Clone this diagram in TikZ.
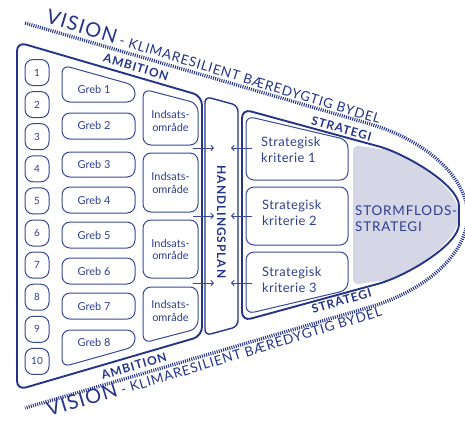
\documentclass[tikz,border=0pt]{standalone}
\usepackage{fontspec}
\setmainfont{Lato}
\newfontfamily\visfont[LetterSpace=6]{Lato}
\newfontfamily\lblfont[LetterSpace=8]{Lato}
\newfontfamily\kritfont[LetterSpace=3]{Lato}
\usetikzlibrary{arrows.meta}
\definecolor{navy}{RGB}{36,52,136}
\definecolor{boxline}{RGB}{56,72,150}
\definecolor{txt}{RGB}{48,62,142}
\definecolor{stormgray}{RGB}{213,215,231}
\begin{document}
\begin{tikzpicture}[x=1bp,y=-1bp,
  thickline/.style={draw=navy,line width=1.9bp,rounded corners=9bp},
  midline/.style={draw=navy,line width=1.4bp,rounded corners=6bp},
  thinbox/.style={draw=boxline,line width=1bp,rounded corners=8bp},
  numbox/.style={draw=boxline,line width=1bp,rounded corners=8bp,minimum width=24bp,minimum height=26bp,inner sep=0pt,text=txt,font=\fontsize{10}{12}\selectfont},
  dotline/.style={draw=navy,line width=3.4bp,dash pattern=on 1bp off 1.2bp},
  grebtxt/.style={inner sep=0pt,text=txt,font=\fontsize{11}{13}\selectfont},
  indtxt/.style={inner sep=0pt,text=txt,align=center,font=\fontsize{11}{13}\selectfont},
  krittxt/.style={inner sep=0pt,text=txt,align=left,anchor=west,font=\kritfont\fontsize{13}{16}\selectfont},
  stormtxt/.style={inner sep=0pt,text=txt,align=left,anchor=west,font=\visfont\fontsize{13.5}{16}\selectfont},
  lbl/.style={inner sep=0pt,text=navy,font=\lblfont\bfseries\fontsize{12}{14}\selectfont},
  vis/.style={inner sep=0pt,text=navy,anchor=base west,font=\visfont\fontsize{13.5}{16}\selectfont},
  arr/.style={draw=boxline,line width=1bp,-{Straight Barb[length=2.5bp,width=5.5bp]}}]
\useasboundingbox (0,0) rectangle (465,420);
\clip (0,0) rectangle (465,420);

% VISION dotted outline
\draw[dotline] (25,23) -- (370,124) .. controls (415,137) and (466,170) .. (468,215.5)
   .. controls (466,261) and (415,294) .. (370,307) -- (25,408);

% storm flood gray region
\begin{scope}
\clip[rounded corners=6bp] (353,145) -- (385,150) -- (470,100) -- (470,330) -- (385,280) -- (353,285) -- cycle;
\fill[stormgray] (242,215) -- (242,109) -- (370,144) .. controls (405,153.5) and (459,185) .. (459,215)
   .. controls (459,245) and (405,276.5) .. (370,286) -- (242,321) -- cycle;
\end{scope}

% ambition box
\draw[thickline] (17,60) -- (17,42) -- (202,96) -- (202,336) -- (17,390) -- cycle;
% handlingsplan box
\draw[midline] (205,200) -- (205,96.5) -- (238,105.5) -- (238,326.5) -- (205,335.5) -- cycle;
% strategi box
\draw[thickline] (242,215) -- (242,109) -- (370,144) .. controls (405,153.5) and (459,185) .. (459,215)
   .. controls (459,245) and (405,276.5) .. (370,286) -- (242,321) -- cycle;

% number boxes
\foreach \i [count=\k from 0] in {1,...,10}{
  \node[numbox] (n\i) at (37,{72.5+32.1*\k}) {\i};
}

% greb boxes
\draw[thinbox] (62,80) -- (62,65) -- (135,85.5) -- (135,102) -- (62,102) -- cycle;
\draw[thinbox] (62,113) rectangle (135,139);
\draw[thinbox] (62,152) rectangle (135,177);
\draw[thinbox] (62,187) rectangle (135,213);
\draw[thinbox] (62,222) rectangle (135,248);
\draw[thinbox] (62,258) rectangle (135,284);
\draw[thinbox] (62,293) rectangle (135,319);
\draw[thinbox] (62,350) -- (62,330) -- (135,330) -- (135,346.5) -- (62,367) -- cycle;
\node[grebtxt] (gt1) at (94,90) {Greb 1};
\node[grebtxt] (gt2) at (94,126) {Greb 2};
\node[grebtxt] (gt3) at (94,164.5) {Greb 3};
\node[grebtxt] (gt4) at (94,200) {Greb 4};
\node[grebtxt] (gt5) at (94,235.5) {Greb 5};
\node[grebtxt] (gt6) at (94,271) {Greb 6};
\node[grebtxt] (gt7) at (94,306) {Greb 7};
\node[grebtxt] (gt8) at (94,342) {Greb 8};

% indsatsomraade boxes
\draw[thinbox] (143,120) -- (143,89) -- (198,103.5) -- (198,145) -- (143,145) -- cycle;
\draw[thinbox] (143,153) rectangle (198,212);
\draw[thinbox] (143,220) rectangle (198,278);
\draw[thinbox] (143,310) -- (143,287) -- (198,287) -- (198,328.5) -- (143,343) -- cycle;
\node[indtxt] (it1) at (170.5,121) {Indsats-\\område};
\node[indtxt] (it2) at (170.5,183) {Indsats-\\område};
\node[indtxt] (it3) at (170.5,249.5) {Indsats-\\område};
\node[indtxt] (it4) at (170.5,311) {Indsats-\\område};

% kriterie boxes
\draw[thinbox] (246,150) -- (246,116) -- (348,140) -- (348,180) -- (246,180) -- cycle;
\draw[thinbox] (246,187) rectangle (348,245);
\draw[thinbox] (246,280) -- (246,252) -- (348,252) -- (348,290) -- (246,314) -- cycle;
\node[krittxt] (kt1) at (261,150) {Strategisk\\kriterie 1};
\node[krittxt] (kt2) at (262,213) {Strategisk\\kriterie 2};
\node[krittxt] (kt3) at (262,280) {Strategisk\\kriterie 3};

% stormflods text
\node[stormtxt] (st) at (355,218.5) {STORMFLODS-\\STRATEGI};

% handlingsplan label
\node[lbl,rotate=-90] (hp) at (221.5,222) {HANDLINGSPLAN};

% arrows
\foreach \y [count=\k] in {148,216,283}{
  \coordinate (ra\k) at (193,\y);
  \coordinate (rb\k) at (214,\y);
  \coordinate (la\k) at (252,\y);
  \coordinate (lb\k) at (231,\y);
  \draw[arr] (ra\k) -- (rb\k);
  \draw[arr] (la\k) -- (lb\k);
}

% edge labels
\node[lbl,rotate=-16.5] (amt) at (136,67) {AMBITION};
\node[lbl,rotate=16.5] (amb) at (134,366) {AMBITION};
\node[lbl,rotate=-16] (stt) at (341.5,128.5) {STRATEGI};
\node[lbl,rotate=16] (stb) at (341.5,301) {STRATEGI};

% vision texts
\node[vis,rotate=-16.9] (vt) at (45,22.5) {{\fontsize{20}{24}\selectfont VISION} - KLIMARESILIENT BÆREDYGTIG BYDEL};
\node[vis,rotate=16.9] (vb) at (49,417) {{\fontsize{20}{24}\selectfont VISION} - KLIMARESILIENT BÆREDYGTIG BYDEL};
\end{tikzpicture}
\end{document}
